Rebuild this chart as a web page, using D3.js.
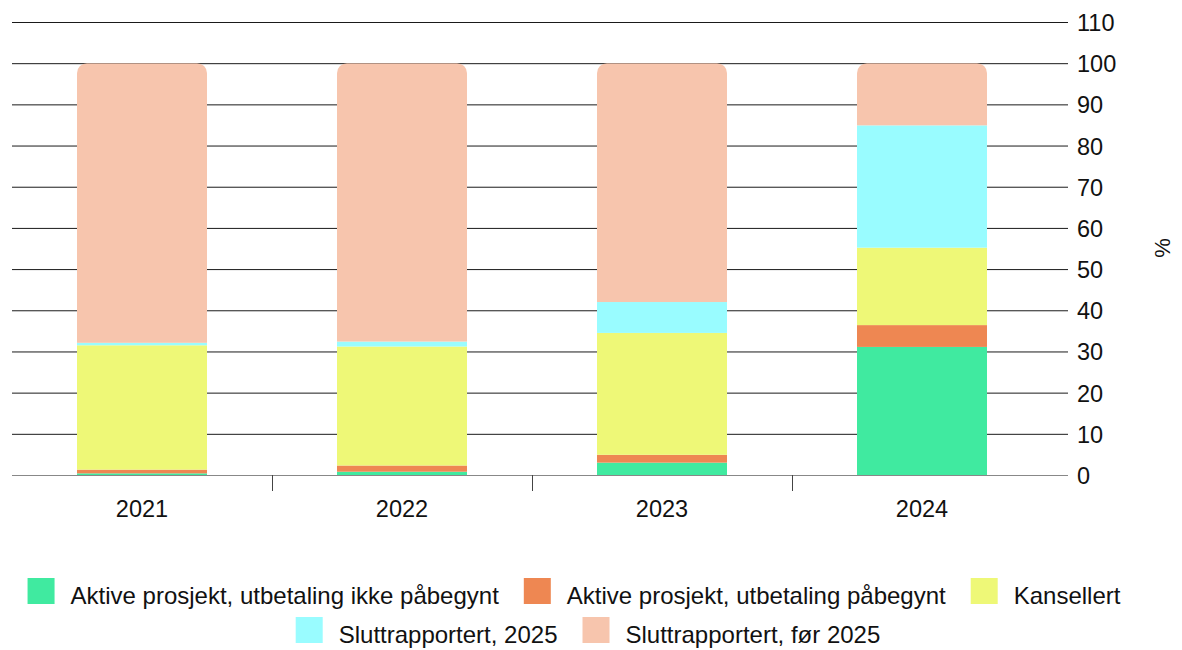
<!DOCTYPE html>
<html>
<head>
<meta charset="utf-8">
<script src="https://cdn.jsdelivr.net/npm/d3@7"></script>
<style>
  body { margin: 0; background: #fff; }
  text { font-family: "Liberation Sans", Arial, sans-serif; fill: #111; }
</style>
</head>
<body>
<div id="main"></div>
<script>
const W = 1182;
const H = 650;

// data (percent)
var years = ["2021", "2022", "2023", "2024"];
var aktivIkke = [0.4, 0.8, 3.0, 31.1];
var aktivPabegynt = [0.9, 1.5, 1.9, 5.3];
var kansellert = [30.2, 28.9, 29.6, 18.8];
var slutt2025 = [0.6, 1.2, 7.5, 29.7];
var sluttFor = [67.9, 67.6, 58.0, 15.1];

var seriesNames = ["Aktive prosjekt, utbetaling ikke påbegynt",
                   "Aktive prosjekt, utbetaling påbegynt",
                   "Kansellert",
                   "Sluttrapportert, 2025",
                   "Sluttrapportert, før 2025"];
var seriesColors = ["#40EAA0", "#EE8752", "#EEF877", "#99FCFF", "#F7C5AD"];
var yTicks = [0, 10, 20, 30, 40, 50, 60, 70, 80, 90, 100, 110];

var plot = {left: 12, right: 1052, top: 22, bottom: 475};

var svg = d3.select("#main").append("svg")
    .attr("width", W)
    .attr("height", H);

var x = d3.scaleBand()
    .domain(years)
    .range([plot.left, plot.right])
    .paddingInner(0.5)
    .paddingOuter(0.25);

var y = d3.scaleLinear()
    .domain([0, 110])
    .range([plot.bottom, plot.top]);

// rows for the stack
var rows = years.map(function(yr, i){
    return {year: yr, s0: aktivIkke[i], s1: aktivPabegynt[i], s2: kansellert[i],
            s3: slutt2025[i], s4: sluttFor[i]};
});
var keys = ["s0", "s1", "s2", "s3", "s4"];
var stacked = d3.stack().keys(keys)(rows);

// gridlines + right axis
var yAxis = d3.axisRight(y)
    .tickValues(yTicks)
    .tickSize(plot.right - plot.left + 16)
    .tickPadding(9);

var gy = svg.append("g")
    .attr("transform", "translate(" + plot.left + ",0)")
    .call(yAxis);
gy.select(".domain").remove();
gy.selectAll(".tick line")
    .attr("stroke", "#1a1a1a")
    .attr("stroke-width", 1);
gy.selectAll(".tick text")
    .style("font-size", "23.5px")
    .attr("dy", "0.36em");
gy.selectAll(".tick").filter(function(d){ return d === 0; }).select("line")
    .attr("stroke", "#888");

// bars, with rounded top corners via clip
var defs = svg.append("defs");
years.forEach(function(yr, i){
    var total = d3.sum(stacked, function(s){ return s[i][1] - s[i][0]; });
    defs.append("clipPath")
        .attr("id", "clip" + i)
        .append("rect")
        .attr("x", x(yr))
        .attr("y", y(total))
        .attr("width", x.bandwidth())
        .attr("height", y(0) - y(total) + 20)
        .attr("rx", 10);
});

var barG = svg.append("g");
stacked.forEach(function(s, k){
    barG.selectAll(null)
        .data(s)
        .enter()
        .append("rect")
        .attr("clip-path", function(d, i){ return "url(#clip" + i + ")"; })
        .attr("x", function(d){ return x(d.data.year); })
        .attr("y", function(d){ return y(d[1]); })
        .attr("width", x.bandwidth())
        .attr("height", function(d){ return y(d[0]) - y(d[1]); })
        .attr("fill", seriesColors[k]);
});

// zero baseline over the bars
svg.append("line")
    .attr("x1", plot.left).attr("x2", plot.right)
    .attr("y1", y(0) + 0.5).attr("y2", y(0) + 0.5)
    .attr("stroke", "#888");

// x axis: labels + separators between categories
var xAxis = d3.axisBottom(x).tickSize(0).tickPadding(25);
var gx = svg.append("g")
    .attr("transform", "translate(0," + y(0) + ")")
    .call(xAxis);
gx.select(".domain").remove();
gx.selectAll(".tick text").style("font-size", "23.5px");

var step = x.step();
years.slice(1).forEach(function(yr){
    var sx = Math.round(x(yr) - (step - x.bandwidth()) / 2) + 0.5;
    svg.append("line")
        .attr("x1", sx).attr("x2", sx)
        .attr("y1", y(0)).attr("y2", y(0) + 16)
        .attr("stroke", "#444");
});

// axis title
svg.append("text")
    .attr("transform", "translate(1170,248) rotate(-90)")
    .attr("text-anchor", "middle")
    .style("font-size", "22px")
    .text("%");

// legend, two centred rows
var legendRows = [[0, 1, 2], [3, 4]];
var legendY = [591, 630];
var sw = 27, gapText = 16, gapItem = 25;
legendRows.forEach(function(idxs, r){
    var g = svg.append("g");
    var cx = 0;
    idxs.forEach(function(k){
        var item = g.append("g").attr("transform", "translate(" + cx + ",0)");
        item.append("rect")
            .attr("x", 0).attr("y", -13)
            .attr("width", sw).attr("height", 26)
            .attr("fill", seriesColors[k]);
        var t = item.append("text")
            .attr("x", sw + gapText)
            .attr("y", 4)
            .attr("dy", "0.36em")
            .style("font-size", "24px")
            .text(seriesNames[k]);
        cx += sw + gapText + t.node().getComputedTextLength() + gapItem;
    });
    var total = cx - gapItem;
    g.attr("transform", "translate(" + (574 + (r === 1 ? 14 : 0) - total / 2) + "," + legendY[r] + ")");
});
</script>
</body>
</html>
